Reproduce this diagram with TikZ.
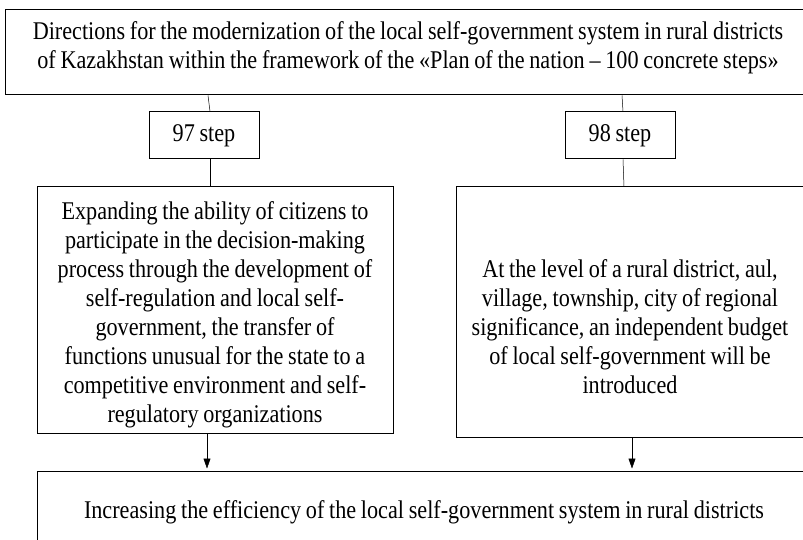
\documentclass[tikz,border=0pt]{standalone}
\usepackage{fontspec}
\setmainfont{Liberation Serif}[FakeStretch=0.87, WordSpace=0.85]
\usepackage{tikz}
\usetikzlibrary{arrows.meta}

\begin{document}
\begin{tikzpicture}[x=1pt, y=1pt,
    font=\fontsize{25.5}{29}\selectfont,
    box/.style={draw, line width=1pt, align=center, inner sep=0pt},
    link/.style={line width=0.5pt},
    arr/.style={line width=0.5pt, shorten >=2pt, -{Triangle[length=10pt, width=7pt]}}]
    \useasboundingbox (0,0) rectangle (803,-540);
    \clip (0,0) rectangle (803,-540);

    % Heading
    \node[box, minimum width=806, minimum height=85] (plan) at (408,-52.5)
        {\raisebox{12.5pt}[0pt][0pt]{\parbox[t]{800pt}{\centering
         Directions for the modernization of the local self-government system in rural districts\\
         of Kazakhstan within the framework of the «Plan of the nation -- 100 concrete steps»}}};

    % Steps
    \node[box, minimum width=110, minimum height=47] (s97) at (204,-135.5) {97 step};
    \node[box, minimum width=110, minimum height=47] (s98) at (620,-135.5) {98 step};

    % Measures
    \node[box, minimum width=356, minimum height=246] (left) at (215,-310)
        {\raisebox{91pt}[0pt][0pt]{\parbox[t]{352pt}{\centering
         Expanding the ability of citizens to\\
         participate in the decision-making\\
         process through the development of\\
         self-regulation and local self-\\
         government, the transfer of\\
         functions unusual for the state to a\\
         competitive environment and self-\\
         regulatory organizations}}};
    \node[box, minimum width=348, minimum height=250] (right) at (630,-312)
        {\raisebox{35pt}[0pt][0pt]{\parbox[t]{344pt}{\centering
         At the level of a rural district, aul,\\
         village, township, city of regional\\
         significance, an independent budget\\
         of local self-government will be\\
         introduced}}};

    % Result
    \node[box, minimum width=774, minimum height=82] (result) at (424,-512)
        {Increasing the efficiency of the local self-government system in rural districts};

    % Links
    \draw[link] ([xshift=4pt]s97.north |- plan.south) -- ([xshift=6pt]s97.north);
    \draw[link] ([xshift=6pt]s97.south) -- ([xshift=6pt]s97.south |- left.north);
    \draw[link] ([xshift=2pt]s98.north |- plan.south) -- ([xshift=3pt]s98.north);
    \draw[link] ([xshift=3pt]s98.south) -- ([xshift=4pt]s98.south |- right.north);
    \draw[arr] ([xshift=-8pt]left.south) -- ([xshift=-8pt]left.south |- result.north);
    \draw[arr] ([xshift=2pt]right.south) -- ([xshift=2pt]right.south |- result.north);
\end{tikzpicture}
\end{document}
